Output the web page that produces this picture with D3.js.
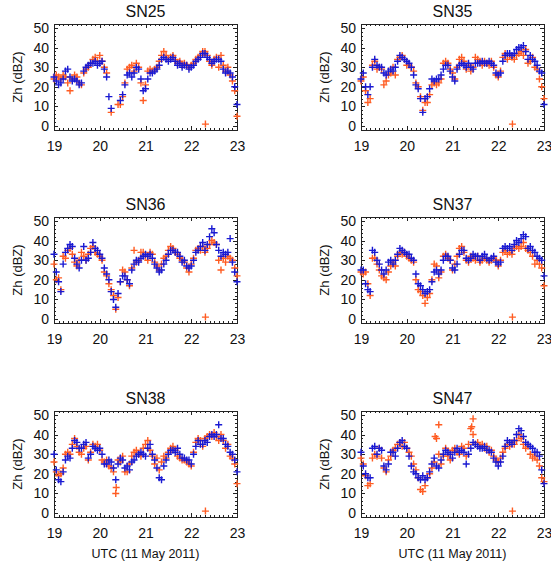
<!DOCTYPE html>
<html>
<head>
<meta charset="utf-8">
<script src="https://d3js.org/d3.v7.min.js"></script>
<style>
  body { margin: 0; background: #fff; }
  text { font-family: "Liberation Sans", Arial, Helvetica, sans-serif; fill: #111; }
</style>
</head>
<body>
<script>
// time of each sample (UTC hour, 11 May 2011)
var hours = [19.00,19.05,19.10,19.15,19.20,19.25,19.30,19.35,19.40,19.45,
             19.50,19.55,19.60,19.65,19.70,19.75,19.80,19.85,19.90,19.95,
             20.00,20.05,20.10,20.15,20.20,20.25,20.30,20.35,20.40,20.45,
             20.50,20.55,20.60,20.65,20.70,20.75,20.80,20.85,20.90,20.95,
             21.00,21.05,21.10,21.15,21.20,21.25,21.30,21.35,21.40,21.45,
             21.50,21.55,21.60,21.65,21.70,21.75,21.80,21.85,21.90,21.95,
             22.00,22.05,22.10,22.15,22.20,22.25,22.30,22.35,22.40,22.45,
             22.50,22.55,22.60,22.65,22.70,22.75,22.80,22.85,22.90,22.95,
             23.00];

var xTicks = [19, 20, 21, 22, 23];
var yTicks = [0, 10, 20, 30, 40, 50];

// Zh (dBZ), blue and orange series per site
var sn25Blue = [25,23,21,22,24,28,29,25,23,24, 23,21,22,28,30,31,32,32,33,31,
                32,33,29,25,15,9,null,null,null,13, 16,21,26,27,25,27,30,29,24,18,
                19,24,27,27,28,29,31,34,35,34, 33,34,35,33,31,32,30,31,31,29,
                30,31,33,34,35,37,37,35,34,32, 33,34,34,33,29,27,28,27,25,20, 11];
var sn25Orange = [24,26,25,24,26,25,22,18,24,26, 25,22,21,27,29,30,32,34,35,33,
                  36,33,30,27,null,7,null,null,11,11, 15,22,29,30,31,28,32,30,22,13,
                  21,28,29,28,29,30,33,36,38,36, 34,35,36,34,32,33,31,32,31,30,
                  31,32,34,35,36,38,38,36,33,31, 34,35,30,36,31,28,30,26,23,18, 5];

var sn35Blue = [24,27,20,16,20,30,34,31,30,30, 27,26,28,29,28,30,33,36,35,34,
                33,32,30,26,21,19,14,7,14,15, 19,24,23,24,24,26,29,31,31,28,
                25,23,29,31,32,31,30,32,30,29, 32,32,32,33,32,32,33,32,31,27,
                26,27,33,36,37,37,36,37,39,40, 40,41,38,34,36,34,33,31,28,27, 11];
var sn35Orange = [23,25,18,12,14,31,33,29,30,29, 21,23,26,27,30,26,34,35,36,34,
                  31,31,30,28,22,20,15,8,12,12, 16,21,22,21,22,24,32,33,32,29,
                  27,24,30,34,35,33,29,31,28,30, 35,34,33,31,33,32,31,33,30,26,
                  25,28,35,37,34,36,35,34,36,37, 38,36,39,32,33,35,30,29,24,20, 14];

var sn36Blue = [33,24,19,14,28,34,36,38,37,31, 28,26,30,37,30,31,34,39,36,35,
                33,31,26,23,20,14,10,6,13,19, 22,22,20,18,25,28,30,29,31,32,
                33,32,33,31,28,26,24,25,28,30, 33,35,35,34,34,32,29,30,27,26,
                27,30,34,35,37,39,35,38,42,46, 44,38,35,32,34,33,34,41,29,24, 19];
var sn36Orange = [28,20,21,15,32,31,35,36,33,29, 27,30,34,32,30,33,36,37,34,33,
                  32,30,24,22,18,15,12,5,11,19, 25,24,20,17,26,35,29,30,34,34,
                  32,30,34,33,29,27,25,28,31,32, 35,37,36,34,33,31,30,29,26,24,
                  28,31,35,36,35,37,34,36,38,40, 39,38,30,25,31,29,32,31,30,26, 22];

var sn37Blue = [25,25,18,15,14,35,34,30,28,25, 23,25,29,30,28,30,33,36,35,34,
                33,33,31,30,23,18,17,15,13,14, 15,19,24,25,23,25,30,32,32,30,
                26,25,28,33,35,35,31,30,31,33, 32,32,30,32,33,31,30,31,32,29,
                28,29,36,37,36,37,35,38,40,39, 41,43,42,36,37,35,34,32,31,30, 22];
var sn37Orange = [24,23,24,18,12,31,31,28,25,22, 21,20,24,27,29,27,32,34,33,34,
                  32,31,30,29,20,15,14,12,8,11, 13,20,28,27,21,24,32,33,31,30,
                  25,28,32,36,37,34,30,29,32,31, 30,32,29,30,31,30,29,30,31,30,
                  27,30,34,35,33,34,33,36,37,36, 37,39,36,35,34,32,28,30,28,26, 17];

var sn38Blue = [30,22,17,16,21,27,29,28,33,37, 36,33,33,35,36,28,30,34,33,32,
                33,30,25,25,27,26,23,17,25,28, 27,23,24,22,26,27,29,30,31,30,
                29,33,35,30,27,23,18,17,24,27, 30,32,32,31,33,30,28,28,27,27,
                25,30,34,37,35,35,37,36,39,40, 39,40,45,38,38,35,34,31,30,27, 21];
var sn38Orange = [26,21,19,20,23,30,31,30,35,38, 34,31,30,33,34,27,31,35,34,35,
                  32,27,26,27,24,23,21,10,27,26, 29,21,21,25,29,31,32,30,29,33,
                  35,37,32,29,25,28,22,26,29,28, 31,33,34,32,29,28,27,27,26,25,
                  24,31,36,38,37,34,38,39,40,39, 41,39,37,40,37,33,35,29,28,25, 15];

var sn47Blue = [31,24,20,18,18,33,34,30,33,32, 24,22,25,31,31,29,33,36,37,34,
                33,29,24,21,20,18,17,19,17,18, 21,25,28,24,23,27,30,32,31,30,
                28,31,33,31,32,31,25,30,33,36, 35,34,33,33,34,32,32,31,28,26,
                24,26,29,34,37,36,35,37,40,43, 42,39,36,35,34,33,31,31,29,22, 15];
var sn47Orange = [28,25,19,14,15,28,30,29,33,28, 23,21,27,29,32,33,35,36,34,36,
                  33,31,29,25,22,18,12,11,14,18, 20,23,26,38,30,25,29,33,29,27,
                  32,33,31,30,34,33,29,35,43,40, 35,36,34,35,33,34,31,32,29,27,
                  26,28,31,33,35,34,36,35,37,40, 38,35,33,34,30,28,29,27,24,18, 16];

// extra orange points off the main sampling
var sn25OutT = [22.31], sn25OutV = [1];
var sn35OutT = [22.31], sn35OutV = [1];
var sn36OutT = [22.31], sn36OutV = [1];
var sn37OutT = [22.31], sn37OutV = [1];
var sn38OutT = [22.31, 20.36], sn38OutV = [1, 13];
var sn47OutT = [22.31, 20.70, 20.62, 21.45, 21.42], sn47OutV = [1, 45, 39, 48, 44];

var panels = [
  {name: "SN25", blue: sn25Blue, orange: sn25Orange, outT: sn25OutT, outV: sn25OutV},
  {name: "SN35", blue: sn35Blue, orange: sn35Orange, outT: sn35OutT, outV: sn35OutV},
  {name: "SN36", blue: sn36Blue, orange: sn36Orange, outT: sn36OutT, outV: sn36OutV},
  {name: "SN37", blue: sn37Blue, orange: sn37Orange, outT: sn37OutT, outV: sn37OutV},
  {name: "SN38", blue: sn38Blue, orange: sn38Orange, outT: sn38OutT, outV: sn38OutV},
  {name: "SN47", blue: sn47Blue, orange: sn47Orange, outT: sn47OutT, outV: sn47OutV}
];

var Layout = {
  width : 551,
  height : 565,
  colX : [54, 361],
  rowY : [24, 217, 411],
  pw : 183,
  ph : 106
};

var BLUE = "#1a1ad2", ORANGE = "#ff5c22";
var plus = "M-3.5,0H3.5M0,-3.5V3.5";

var svg = d3.select('body').append('svg')
  .attr('width', Layout.width)
  .attr('height', Layout.height);

var x = d3.scaleLinear().domain([19, 23]).range([0, Layout.pw]);
var y = d3.scaleLinear().domain([-2, 52]).range([Layout.ph, 0]);

function styleAxis(g) {
  g.select('.domain').remove();
  g.selectAll('line').attr('stroke', '#222').attr('shape-rendering', 'crispEdges');
  g.attr('font-family', null).attr('font-size', 14);
  g.selectAll('text').attr('fill', '#111');
}

function drawPanel(p, i) {
  var c = i % 2, r = Math.floor(i / 2);
  var g = svg.append('g')
    .attr('transform', 'translate(' + Layout.colX[c] + ',' + Layout.rowY[r] + ')');

  // minor ticks on all four sides
  g.append('g').attr('transform', 'translate(0,' + Layout.ph + ')')
    .call(d3.axisBottom(x).tickValues(x.ticks(40)).tickSize(-2).tickFormat(''))
    .call(styleAxis);
  g.append('g')
    .call(d3.axisTop(x).tickValues(x.ticks(40)).tickSize(-2).tickFormat(''))
    .call(styleAxis);
  g.append('g')
    .call(d3.axisLeft(y).tickValues(y.ticks(27)).tickSize(-2).tickFormat(''))
    .call(styleAxis);
  g.append('g').attr('transform', 'translate(' + Layout.pw + ',0)')
    .call(d3.axisRight(y).tickValues(y.ticks(27)).tickSize(-2).tickFormat(''))
    .call(styleAxis);

  // major ticks + labels
  g.append('g').attr('transform', 'translate(0,' + Layout.ph + ')')
    .call(d3.axisBottom(x).tickValues(xTicks).tickSize(-4).tickPadding(11).tickFormat(d3.format('d')))
    .call(styleAxis);
  g.append('g')
    .call(d3.axisTop(x).tickValues(xTicks).tickSize(-4).tickFormat(''))
    .call(styleAxis);
  g.append('g')
    .call(d3.axisLeft(y).tickValues(yTicks).tickSize(-4).tickPadding(5).tickFormat(d3.format('d')))
    .call(styleAxis);
  g.append('g').attr('transform', 'translate(' + Layout.pw + ',0)')
    .call(d3.axisRight(y).tickValues(yTicks).tickSize(-4).tickFormat(''))
    .call(styleAxis);

  g.append('rect')
    .attr('x', 0.5).attr('y', 0.5)
    .attr('width', Layout.pw).attr('height', Layout.ph)
    .attr('fill', 'none').attr('stroke', '#222')
    .attr('shape-rendering', 'crispEdges');

  var orangePts = hours.map(function(t, k){ return {t: t, v: p.orange[k]}; })
    .filter(function(d){ return d.v != null; });
  p.outT.forEach(function(t, k){ orangePts.push({t: t, v: p.outV[k]}); });
  var bluePts = hours.map(function(t, k){ return {t: t, v: p.blue[k]}; })
    .filter(function(d){ return d.v != null; });

  g.append('g').selectAll('path').data(orangePts)
    .enter().append('path')
      .attr('d', plus)
      .attr('transform', function(d){ return 'translate(' + x(d.t) + ',' + y(d.v) + ')'; })
      .attr('stroke', ORANGE).attr('stroke-width', 1.4).attr('fill', 'none');

  g.append('g').selectAll('path').data(bluePts)
    .enter().append('path')
      .attr('d', plus)
      .attr('transform', function(d){ return 'translate(' + x(d.t) + ',' + y(d.v) + ')'; })
      .attr('stroke', BLUE).attr('stroke-width', 1.4).attr('fill', 'none');

  g.append('text')
    .attr('x', Layout.pw / 2).attr('y', -7)
    .attr('text-anchor', 'middle')
    .attr('font-size', 16)
    .text(p.name);

  g.append('text')
    .attr('transform', 'translate(-32,' + (Layout.ph / 2) + ') rotate(-90)')
    .attr('text-anchor', 'middle')
    .attr('font-size', 13)
    .text('Zh (dBZ)');

  if (r === 2) {
    g.append('text')
      .attr('x', Layout.pw / 2).attr('y', Layout.ph + 41)
      .attr('text-anchor', 'middle')
      .attr('font-size', 12.5)
      .text('UTC (11 May 2011)');
  }
}

panels.forEach(drawPanel);
</script>
</body>
</html>
